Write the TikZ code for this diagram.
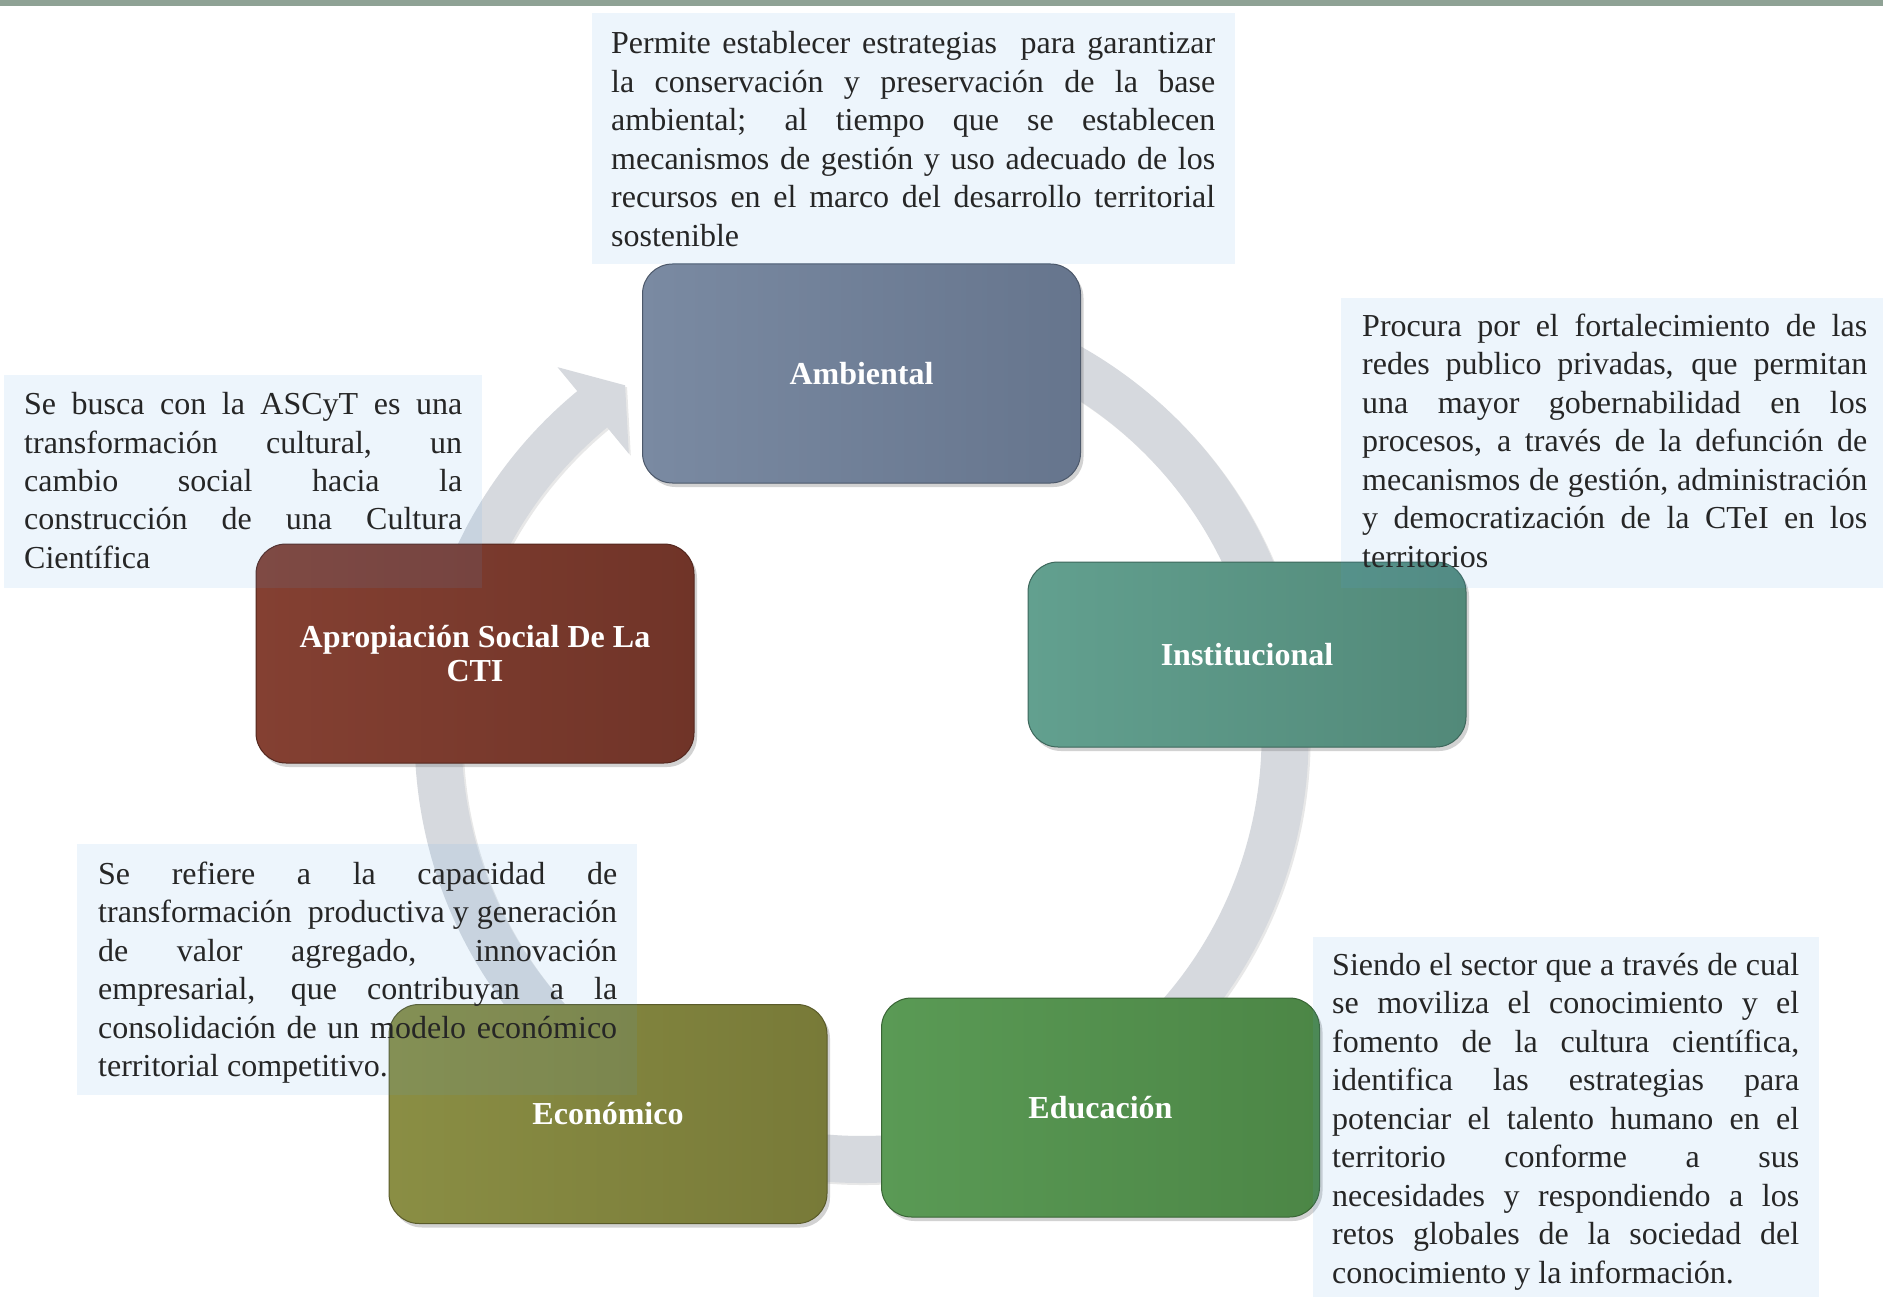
\documentclass[tikz,border=0pt]{standalone}
\usepackage{fontspec}
\setmainfont{Liberation Serif}
\usetikzlibrary{shadows}
\definecolor{barc}{RGB}{143,162,149}
\definecolor{ringc}{RGB}{214,217,222}
\definecolor{descfill}{RGB}{85,165,235}
\definecolor{desctext}{RGB}{38,38,38}
\definecolor{ambL}{RGB}{122,138,162}
\definecolor{ambR}{RGB}{102,117,141}
\definecolor{insL}{RGB}{98,160,143}
\definecolor{insR}{RGB}{82,137,121}
\definecolor{eduL}{RGB}{90,154,85}
\definecolor{eduR}{RGB}{76,134,70}
\definecolor{ecoL}{RGB}{138,142,68}
\definecolor{ecoR}{RGB}{120,122,56}
\definecolor{apsL}{RGB}{132,64,50}
\definecolor{apsR}{RGB}{112,52,40}
\newcommand{\jl}[1]{\makebox[\linewidth][s]{#1}\\}
\newcommand{\desctext}[2]{\parbox[t]{#1}{\fontsize{32}{38.5}\selectfont #2}}
\tikzset{
  catbox/.style={rounded corners=30pt, draw=#1R!75!black, line width=1pt,
    left color=#1L, right color=#1R, minimum width=438pt, minimum height=219pt,
    inner sep=0pt, text=white, font=\fontsize{32}{33.6}\selectfont\bfseries,
    align=center,
    drop shadow={shadow xshift=3pt, shadow yshift=-4pt, opacity=0.35}},
  descbg/.style={fill=descfill, fill opacity=0.1, draw=none},
  desc/.style={anchor=base west, inner sep=0pt, text=desctext},
  ringshape/.style={fill=ringc, drop shadow={shadow xshift=2pt, shadow yshift=-2pt, opacity=0.18}}
}
\begin{document}
\begin{tikzpicture}[x=1pt,y=-1pt]
\useasboundingbox (0,0) rectangle (1883,1297);
\fill[white] (0,0) rectangle (1883,1297);
\fill[barc] (0,0) rectangle (1883,6);
% circular arrow
\begin{scope}[shift={(861.6,736)}, y=1pt]
  \path[ringshape] (95:447) arc[start angle=95, end angle=-230.5, radius=447]
    -- (129.5:478) -- (124:423) -- (129.5:366) -- (-230.5:400)
    arc[start angle=-230.5, end angle=95, radius=400] -- cycle;
\end{scope}
% category boxes
\node[catbox=amb, minimum height=219pt] (amb) at (861.5,373.5) {Ambiental};
\node[catbox=ins, minimum height=185pt] (ins) at (1247,654.5) {Institucional};
\node[catbox=edu] (edu) at (1100.5,1107.5) {Educación};
\node[catbox=eco] (eco) at (608,1114) {Económico};
\node[catbox=aps] (aps) at (475,653.5) {Apropiación Social De La\\CTI};
% description backgrounds
\fill[descbg] (592,13) rectangle (1235,264);
\fill[descbg] (1341,298) rectangle (1883,588);
\fill[descbg] (4,375) rectangle (482,588);
\fill[descbg] (77,844) rectangle (637,1095);
\fill[descbg] (1313,937) rectangle (1819,1297);
% description texts
\node[desc] (d1) at (611,54) {\desctext{604pt}{%
\jl{Permite establecer estrategias~ para garantizar}
\jl{la conservación y preservación de la base}
\jl{ambiental; al tiempo que se establecen}
\jl{mecanismos de gestión y uso adecuado de los}
\jl{recursos en el marco del desarrollo territorial}
sostenible}};
\node[desc] (d2) at (1362,336.5) {\desctext{505pt}{%
\jl{Procura por el fortalecimiento de las}
\jl{redes publico privadas, que permitan}
\jl{una mayor gobernabilidad en los}
\jl{procesos, a través de la defunción de}
\jl{mecanismos de gestión, administración}
\jl{y democratización de la CTeI en los}
territorios}};
\node[desc] (d3) at (24,414.5) {\desctext{438pt}{%
\jl{Se busca con la ASCyT es una}
\jl{transformación cultural, un}
\jl{cambio social hacia la}
\jl{construcción de una Cultura}
Científica}};
\node[desc] (d4) at (98,884) {\desctext{519pt}{%
\jl{Se refiere a la capacidad de}
\jl{transformación~ productiva y generación}
\jl{de valor agregado, innovación}
\jl{empresarial, que contribuyan a la}
\jl{consolidación de un modelo económico}
territorial competitivo.}};
\node[desc] (d5) at (1332,975) {\desctext{467pt}{%
\jl{Siendo el sector que a través de cual}
\jl{se moviliza el conocimiento y el}
\jl{fomento de la cultura científica,}
\jl{identifica las estrategias para}
\jl{potenciar el talento humano en el}
\jl{territorio conforme a sus}
\jl{necesidades y respondiendo a los}
\jl{retos globales de la sociedad del}
conocimiento y la información.}};
\end{tikzpicture}
\end{document}
